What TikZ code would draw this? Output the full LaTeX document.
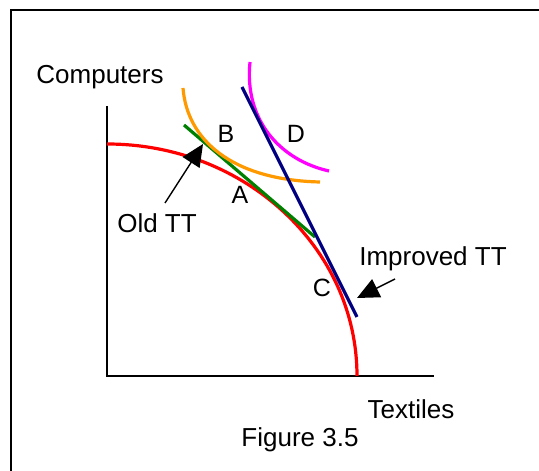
\documentclass[tikz,border=0pt]{standalone}
\usepackage{fontspec}
\setmainfont{Liberation Sans}
\usetikzlibrary{arrows.meta}
\definecolor{ppfred}{RGB}{255,0,0}
\definecolor{oldgreen}{RGB}{0,128,0}
\definecolor{icorange}{RGB}{255,153,0}
\definecolor{icmagenta}{RGB}{255,0,255}
\definecolor{newblue}{RGB}{0,0,128}
\tikzset{
  curve/.style={line width=3.2pt},
  axisline/.style={line width=1.6pt, black},
  lbl/.style={anchor=base, inner sep=0pt, font=\fontsize{26}{30}\selectfont},
  ptlbl/.style={anchor=base, inner sep=0pt, font=\fontsize{25}{30}\selectfont},
  pointer/.style={line width=1.4pt, -{Triangle[length=22pt,width=20pt]}}
}
\begin{document}
\begin{tikzpicture}[x=1pt,y=1pt]
\useasboundingbox (0,0) rectangle (539,471);
% frame
\draw[line width=2pt] (11,0) -- (11,461) -- (539,461);
% axes
\draw[axisline] (107,365) -- (107,95) -- (434,95);
% production possibility frontier
\draw[curve, ppfred] (107,327) arc[start angle=90, end angle=0, x radius=250, y radius=232];
% old terms of trade
\draw[curve, oldgreen] (184,346) -- (315,234);
% indifference curves
\draw[curve, icorange] (183,383) .. controls (187,331) and (232,291) .. (320,289);
\draw[curve, icmagenta] (250,409) .. controls (244,351) and (280,311) .. (329,300);
% improved terms of trade
\draw[curve, newblue] (242,384) -- (357,154);
% labels
\node[lbl] (comp) at (100,387) {Computers};
\node[lbl] (text) at (411,52) {Textiles};
\node[lbl] (fig) at (300,24) {Figure 3.5};
\node[lbl] (oldtt) at (157,238) {Old TT};
\node[lbl] (imptt) at (433,205) {Improved TT};
\node[ptlbl] (B) at (226,328) {B};
\node[ptlbl] (D) at (296,328) {D};
\node[ptlbl] (A) at (240,267) {A};
\node[ptlbl] (C) at (322,174) {C};
% pointers
\coordinate (oldstart) at (165,268);
\coordinate (oldtip) at (203,327);
\coordinate (impstart) at (395,192);
\coordinate (imptip) at (357,173);
\draw[pointer] (oldstart) -- (oldtip);
\draw[pointer] (impstart) -- (imptip);
\end{tikzpicture}
\end{document}
